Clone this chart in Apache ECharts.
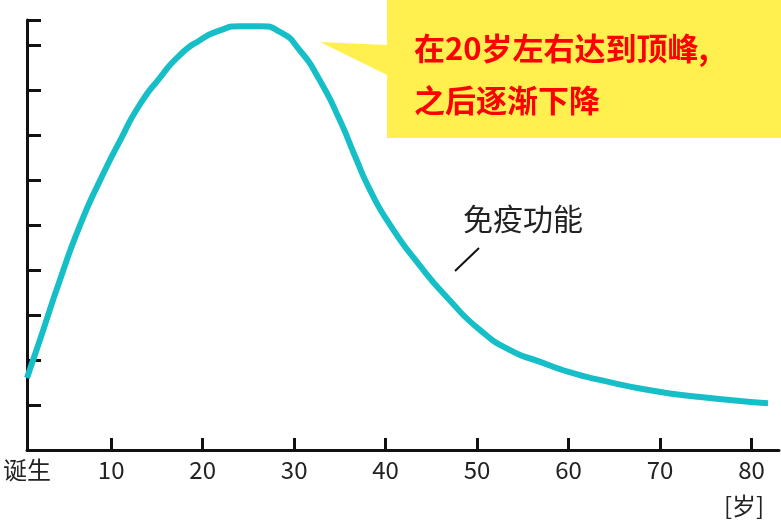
<!DOCTYPE html><html><head><meta charset="utf-8"><script src="https://cdn.jsdelivr.net/npm/echarts@6/dist/echarts.min.js"></script></head><body style="margin:0"><div id="c" style="width:781px;height:526px"></div><script>
const ages=[0.8,2.2,4.4,6.6,8.8,11.0,13.1,15.3,17.5,19.7,21.9,24.1,26.3,28.5,30.6,32.8,35.0,36.6,38.3,40.5,43.7,47.0,50.3,53.6,56.9,60.1,63.4,68.9,74.4,81.8];
const immunity=[1.6,2.44,3.78,5.0,6.0,6.89,7.67,8.27,8.78,9.11,9.33,9.42,9.42,9.29,8.89,8.22,7.33,6.56,5.78,5.0,4.11,3.33,2.67,2.22,1.96,1.73,1.56,1.33,1.18,1.04];
const xTicks=[0.8,10,20,30,40,50,60,70,80];
const xLabels=['诞生','10','20','30','40','50','60','70','80'];
const f='"Noto Sans CJK SC"';
const ch=echarts.init(document.getElementById('c'));
ch.setOption({animation:false,
grid:{left:27,right:2,top:20,bottom:76},
xAxis:{type:'value',min:0.8,max:83,splitLine:{show:false},
 axisLine:{lineStyle:{color:'#111',width:3}},
 axisTick:{inside:true,length:12,lineStyle:{color:'#111',width:3},customValues:xTicks.slice(1)},
 axisLabel:{customValues:xTicks,formatter:v=>xLabels[xTicks.indexOf(v)]??'',color:'#222',fontSize:24,fontFamily:f,margin:8}},
yAxis:{type:'value',min:0,max:9.56,interval:1,splitLine:{show:false},axisLabel:{show:false},
 axisLine:{show:true,lineStyle:{color:'#111',width:3}},
 axisTick:{show:true,inside:true,length:14,lineStyle:{color:'#111',width:3}}},
series:[{type:'line',smooth:0.6,symbol:'none',data:ages.map((a,i)=>[a,immunity[i]]),lineStyle:{color:'#16bfc8',width:6}}],
graphic:[
 {type:'polygon',shape:{points:[[387,0],[781,0],[781,138],[387,138],[387,75],[320,42],[387,45]]},style:{fill:'#fff050'}},
 {type:'text',left:414,top:22,style:{text:'在20岁左右达到顶峰,\n之后逐渐下降',fill:'#f00',font:'bold 31px '+f,lineHeight:52}},
 {type:'text',left:463,top:204,style:{text:'免疫功能',fill:'#222',font:'30px '+f}},
 {type:'line',shape:{x1:455,y1:271,x2:479,y2:248},style:{stroke:'#111',lineWidth:2}},
 {type:'text',left:724,top:494,style:{text:'[岁]',fill:'#222',font:'24px '+f}}
]});
</script></body></html>
